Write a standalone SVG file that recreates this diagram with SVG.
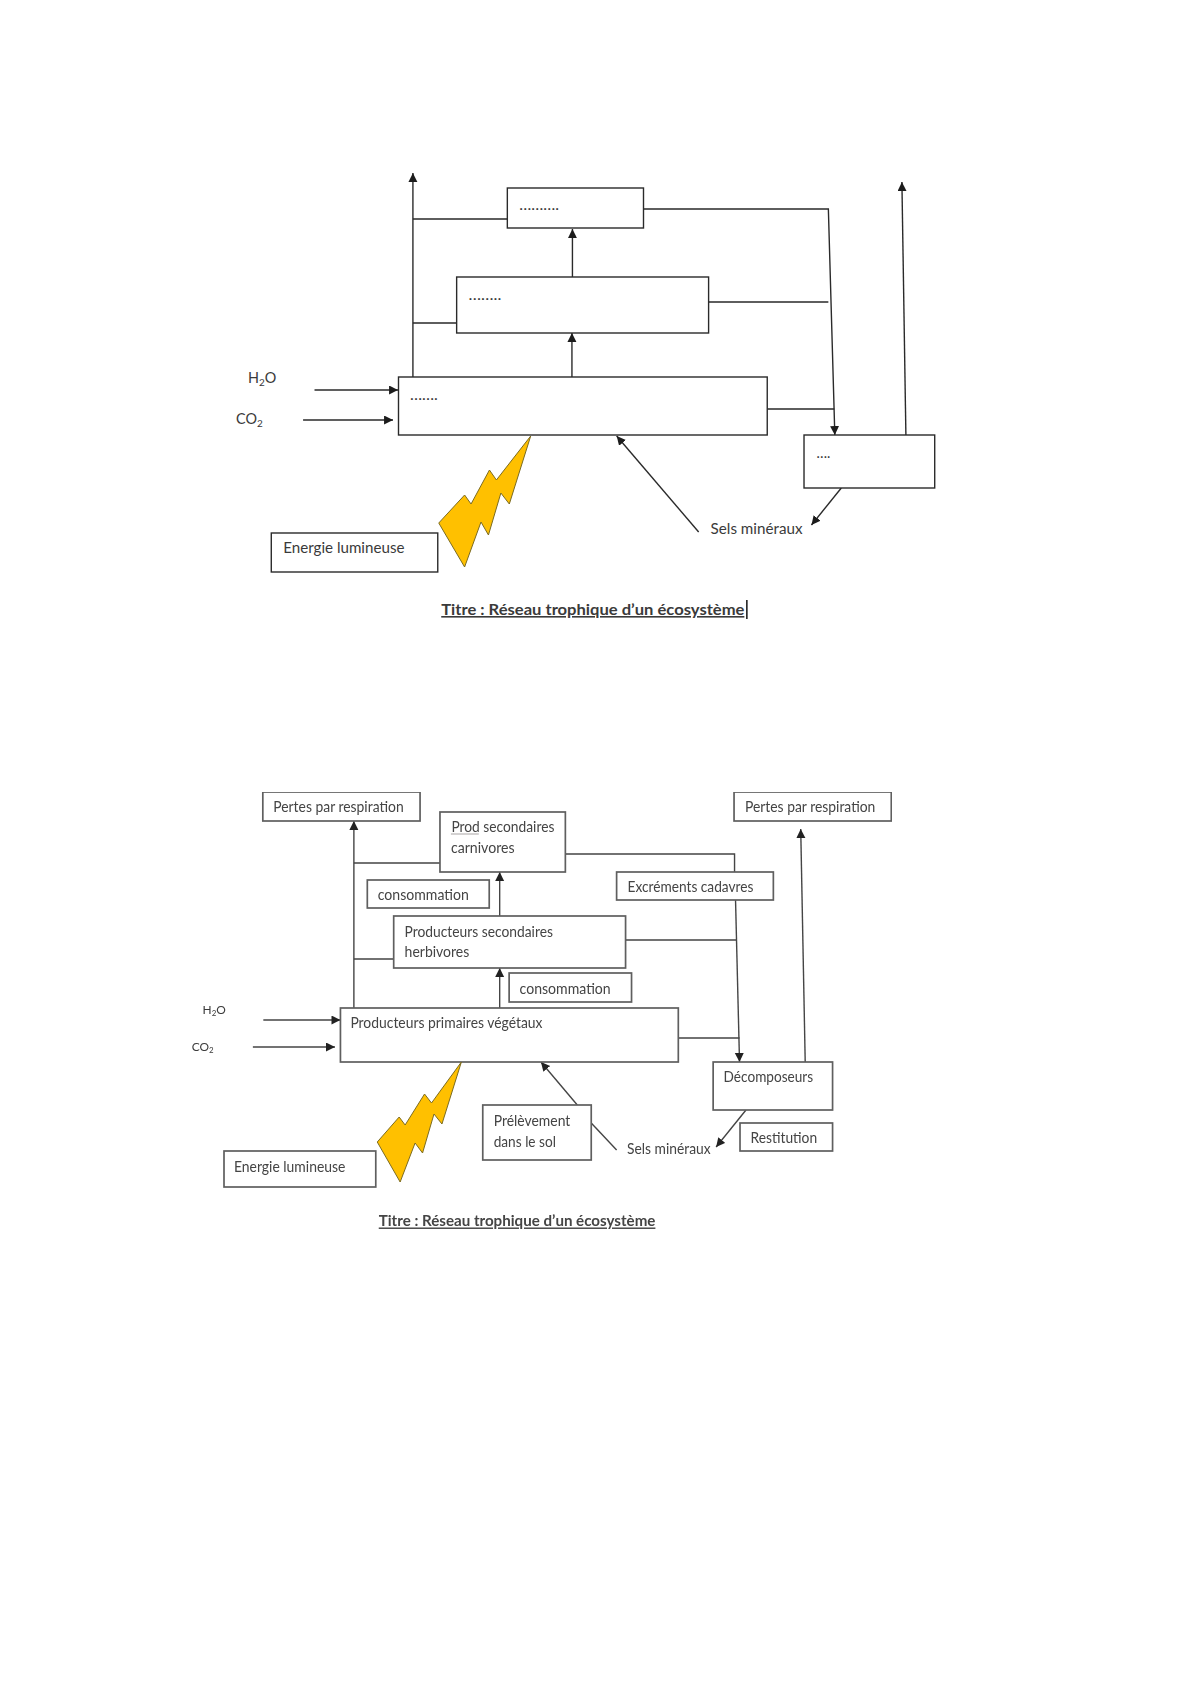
<svg xmlns="http://www.w3.org/2000/svg" width="1191" height="1684" viewBox="0 0 1191 1684">
<defs>
<marker id="a" markerUnits="userSpaceOnUse" markerWidth="11" markerHeight="11" refX="9" refY="4.500" orient="auto"><path d="M0 0L9 4.500L0 9Z" fill="#1c1c1c"/></marker>
<marker id="b" markerUnits="userSpaceOnUse" markerWidth="11" markerHeight="11" refX="9" refY="4.500" orient="auto"><path d="M0 0L9 4.500L0 9Z" fill="#222"/></marker>
<filter id="soft" x="0" y="0" width="1" height="1"><feGaussianBlur stdDeviation="0.4"/></filter>
</defs>
<style>
text{font-family:Lato,"Liberation Sans",Arial,sans-serif;fill:#3a3a3a}
.n1{fill:#fff;stroke:#2a2a2a;stroke-width:1.4}
.n2{fill:#fff;stroke:#5e5e5e;stroke-width:1.7}
.t1{font-size:16px}
.t2{font-size:14.500px;fill:#444}
.c1 path{fill:none;stroke:#2a2a2a;stroke-width:1.4}
.c2 path{fill:none;stroke:#444;stroke-width:1.4}
.ar1{marker-end:url(#a)}
.ar2{marker-end:url(#b)}
.bolt{fill:#ffc000;stroke:#7a6a20;stroke-width:1}
.ttl{font-weight:bold;text-decoration:underline}
.sub{font-size:10px}
.sub2{font-size:8px}
.chem{font-size:14.500px}
.chem2{font-size:12px}
</style>
<rect width="1191" height="1684" fill="#fff"/>

<g id="top-diagram" transform="matrix(0.9939 0 0 1 1.44 0)">
<g id="connectors-top" class="c1">
<path class="ar1" d="M414 377V173"/>
<path d="M414 219H509M414 323H458"/>
<path class="ar1" d="M574.500 277V229"/>
<path class="ar1" d="M574 377V333"/>
<path class="ar1" d="M646 209H832L838.500 435"/>
<path d="M711.500 302H832M770.500 409H838"/>
<path class="ar1" d="M315 390H399"/>
<path class="ar1" d="M303.500 420H394"/>
<path class="ar1" d="M910 435L906 182"/>
<path class="ar1" d="M845 488L815 525"/>
<path class="ar1" d="M701.500 532L619 436"/>
</g>
<g id="top-carnivores"><rect class="n1" x="509" y="188" width="137" height="40"/><text class="t1" x="521" y="210" textLength="40" lengthAdjust="spacingAndGlyphs">……….</text></g>
<g id="top-herbivores"><rect class="n1" x="458" y="277" width="253.500" height="56"/><text class="t1" x="470" y="300" textLength="33" lengthAdjust="spacingAndGlyphs">……..</text></g>
<g id="top-primary"><rect class="n1" x="399.500" y="377" width="371" height="58"/><text class="t1" x="411" y="400" textLength="28" lengthAdjust="spacingAndGlyphs">…….</text></g>
<g id="top-decomposers"><rect class="n1" x="807.500" y="435" width="131.500" height="53"/><text class="t1" x="820" y="458" textLength="14" lengthAdjust="spacingAndGlyphs">….</text></g>
<g id="top-h2o"><text class="chem" x="248" y="383">H<tspan class="sub" dy="3">2</tspan><tspan dy="-3">O</tspan></text></g>
<g id="top-co2"><text class="chem" x="236" y="424">CO<tspan class="sub" dy="3">2</tspan></text></g>
<g id="top-sels"><text class="t1" x="713.500" y="534" textLength="92.500" lengthAdjust="spacingAndGlyphs">Sels minéraux</text></g>
<g id="top-energy"><rect class="n1" x="271.500" y="533" width="167.500" height="39"/><text class="t1" x="283.500" y="553" textLength="122" lengthAdjust="spacingAndGlyphs">Energie lumineuse</text></g>
<g id="top-bolt"><polygon class="bolt" points="532.500,436 498,480 491,470 472.500,504 466,495 440,523 466,567 482.500,522 490,535 502.500,493 511,504"/></g>
<g id="top-title"><text class="t1 ttl" x="442.500" y="615" textLength="305" lengthAdjust="spacingAndGlyphs">Titre : Réseau trophique d’un écosystème</text><path d="M750 600V619" stroke="#111" stroke-width="1.500"/></g>
</g>

<g id="bottom-diagram" transform="matrix(0.9952 0 0 1 1.08 0)" filter="url(#soft)">
<g id="connectors-bottom" class="c2">
<path class="ar2" d="M354.500 1008V821"/>
<path d="M354.500 863H442M354.500 959H394.500"/>
<path class="ar2" d="M501 916V872"/>
<path class="ar2" d="M501 1008V968"/>
<path d="M567 854H737V872M627.500 940H738.500M680.500 1038H742"/>
<path class="ar2" d="M738 900L742 1062"/>
<path class="ar2" d="M808 1062L803.500 829"/>
<path class="ar2" d="M748.500 1110L718.500 1147"/>
<path class="ar2" d="M263.500 1020H341"/>
<path class="ar2" d="M253 1047H335.500"/>
<path class="ar2" d="M579 1105L542.500 1062"/>
<path d="M593 1123L618.500 1150"/>
</g>
<g id="loss-left"><rect class="n2" x="263" y="792" width="158" height="29"/><text class="t2" x="273.500" y="812" textLength="131" lengthAdjust="spacingAndGlyphs">Pertes par respiration</text></g>
<g id="loss-right"><rect class="n2" x="736.500" y="792" width="158" height="29"/><text class="t2" x="747.500" y="812" textLength="131" lengthAdjust="spacingAndGlyphs">Pertes par respiration</text></g>
<g id="carnivores"><rect class="n2" x="441" y="812" width="126" height="60"/><text class="t2" x="452.500" y="832" textLength="103.500" lengthAdjust="spacingAndGlyphs">Prod secondaires</text><text class="t2" x="452" y="853" textLength="64" lengthAdjust="spacingAndGlyphs">carnivores</text><path d="M452 834H480" stroke="#a9a5a5" stroke-width="1" fill="none"/></g>
<g id="consumption-upper"><rect class="n2" x="368" y="880" width="122.500" height="28"/><text class="t2" x="378.500" y="900" textLength="91.500" lengthAdjust="spacingAndGlyphs">consommation</text></g>
<g id="waste"><rect class="n2" x="618.500" y="872" width="157.500" height="28"/><text class="t2" x="629.500" y="892" textLength="126.500" lengthAdjust="spacingAndGlyphs">Excréments cadavres</text></g>
<g id="herbivores"><rect class="n2" x="394.500" y="916" width="233" height="52"/><text class="t2" x="405.500" y="937" textLength="149" lengthAdjust="spacingAndGlyphs">Producteurs secondaires</text><text class="t2" x="405.500" y="957" textLength="65" lengthAdjust="spacingAndGlyphs">herbivores</text></g>
<g id="consumption-lower"><rect class="n2" x="510.500" y="973" width="123" height="29"/><text class="t2" x="521" y="994" textLength="91.500" lengthAdjust="spacingAndGlyphs">consommation</text></g>
<g id="primary"><rect class="n2" x="341" y="1008" width="339.500" height="54"/><text class="t2" x="351" y="1028" textLength="193" lengthAdjust="spacingAndGlyphs">Producteurs primaires végétaux</text></g>
<g id="h2o"><text class="chem2" x="202.500" y="1014">H<tspan class="sub2" dy="2">2</tspan><tspan dy="-2">O</tspan></text></g>
<g id="co2"><text class="chem2" x="191.500" y="1051">CO<tspan class="sub2" dy="2">2</tspan></text></g>
<g id="decomposers"><rect class="n2" x="715.500" y="1062" width="120" height="48"/><text class="t2" x="726" y="1082" textLength="90" lengthAdjust="spacingAndGlyphs">Décomposeurs</text></g>
<g id="restitution"><rect class="n2" x="742.500" y="1123" width="93" height="28"/><text class="t2" x="753" y="1143" textLength="67" lengthAdjust="spacingAndGlyphs">Restitution</text></g>
<g id="sels"><text class="t2" x="629" y="1154" textLength="84" lengthAdjust="spacingAndGlyphs">Sels minéraux</text></g>
<g id="uptake"><rect class="n2" x="484" y="1105" width="109" height="55"/><text class="t2" x="495" y="1126" textLength="77" lengthAdjust="spacingAndGlyphs">Prélèvement</text><text class="t2" x="495" y="1147" textLength="62.500" lengthAdjust="spacingAndGlyphs">dans le sol</text></g>
<g id="bolt"><polygon class="bolt" points="462.500,1062 432.500,1103 425.500,1094 406,1125 400,1117 378,1142 401,1182 416,1143 423.500,1153 435,1114 443,1124"/></g>
<g id="energy"><rect class="n2" x="224" y="1151" width="152.500" height="36"/><text class="t2" x="234" y="1172" textLength="112" lengthAdjust="spacingAndGlyphs">Energie lumineuse</text></g>
<g id="title"><text class="t2 ttl" x="379.500" y="1226.500" textLength="278" lengthAdjust="spacingAndGlyphs">Titre : Réseau trophique d’un écosystème</text></g>
</g>
</svg>
